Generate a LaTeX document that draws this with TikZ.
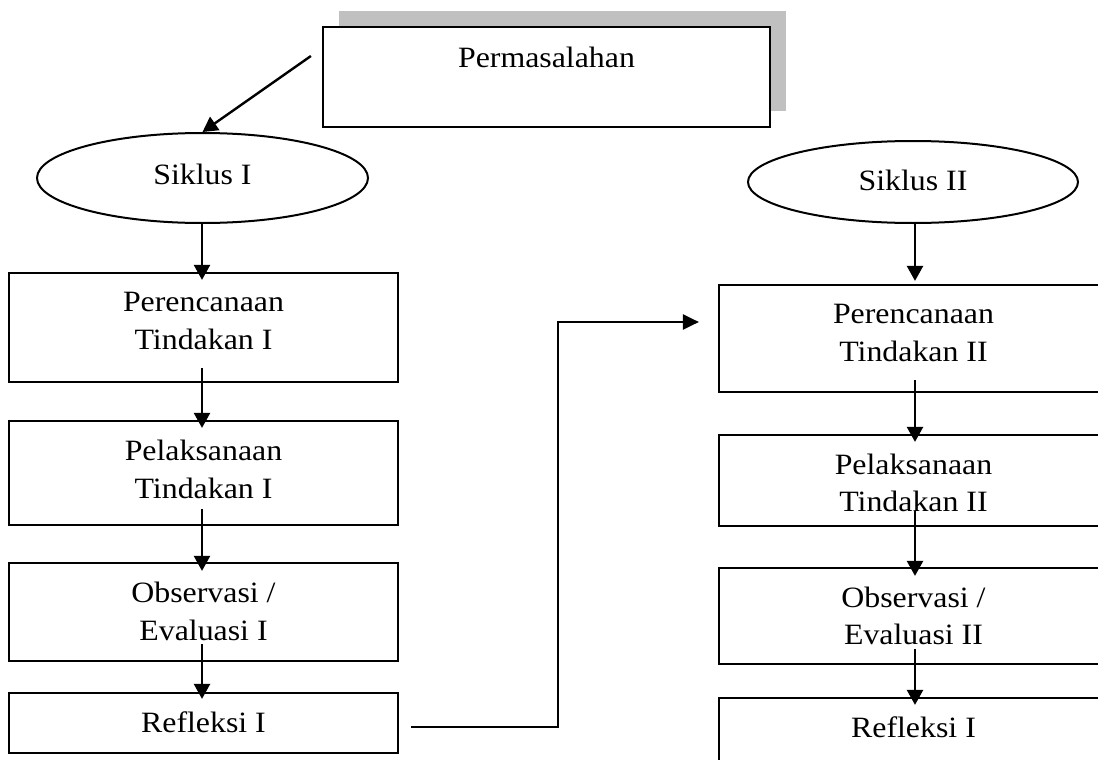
\documentclass[tikz,border=0pt]{standalone}
\usepackage{fontspec}
\setmainfont{Liberation Serif}[FakeStretch=1.08]
\usetikzlibrary{shapes.geometric,arrows.meta,calc}
\definecolor{shadowgray}{HTML}{C0C0C0}
\begin{document}
\begin{tikzpicture}[x=1pt,y=-1pt,
  boxnode/.style={draw, line width=2.2pt, fill=white, rectangle, inner sep=0pt, minimum width=389pt, minimum height=#1},
  shadownode/.style={fill=shadowgray, draw=none, rectangle, inner sep=0pt, minimum width=447pt, minimum height=100pt},
  ellnode/.style={draw, ellipse, line width=2pt, fill=white, inner sep=0pt},
  txt/.style={inner sep=0pt, align=center, font=\fontsize{29.5}{37.7}\selectfont},
  arr/.style={line width=2.4pt, -{Triangle[length=15pt,width=16pt]}},
  arrlink/.style={line width=2.2pt, -{Triangle[length=16pt,width=15pt]}}]
\clip (0,0) rectangle (1098,760);

% top problem box with shadow
\node[shadownode] (permshadow) at (562.5,61) {};
\node[boxnode=100pt, minimum width=447pt] (perm) at (546.5,77) {};
\node[txt, anchor=north] (permt) at ($(perm.north)+(0,20.5)$) {Permasalahan};

% cycle ellipses
\node[ellnode, minimum width=331pt, minimum height=90pt] (s1) at (202.5,178) {};
\node[txt, anchor=base] (s1t) at ($(s1.center)+(0,6)$) {Siklus I};
\node[ellnode, minimum width=330pt, minimum height=82pt] (s2) at (913,182) {};
\node[txt, anchor=base] (s2t) at ($(s2.center)+(0,8)$) {Siklus II};

% left column
\node[boxnode=109pt] (p1) at (203.5,327.5) {};
\node[txt, anchor=north] (p1t) at ($(p1.north)+(0,20.5)$) {Perencanaan\\Tindakan I};
\node[boxnode=104pt] (p2) at (203.5,473) {};
\node[txt, anchor=north] (p2t) at ($(p2.north)+(0,20)$) {Pelaksanaan\\Tindakan I};
\node[boxnode=98pt] (p3) at (203.5,612) {};
\node[txt, anchor=north] (p3t) at ($(p3.north)+(0,20)$) {Observasi /\\Evaluasi I};
\node[boxnode=60pt] (p4) at (203.5,723) {};
\node[txt, anchor=north] (p4t) at ($(p4.north)+(0,20)$) {Refleksi I};

% right column
\node[boxnode=107pt] (q1) at (913.5,338.5) {};
\node[txt, anchor=north] (q1t) at ($(q1.north)+(0,20.5)$) {Perencanaan\\Tindakan II};
\node[boxnode=91pt] (q2) at (913.5,480.5) {};
\node[txt, anchor=north] (q2t) at ($(q2.north)+(0,19.5)$) {Pelaksanaan\\Tindakan II};
\node[boxnode=96pt] (q3) at (913.5,616) {};
\node[txt, anchor=north] (q3t) at ($(q3.north)+(0,19.5)$) {Observasi /\\Evaluasi II};
\node[boxnode=74pt] (q4) at (913.5,735) {};
\node[txt, anchor=north] (q4t) at ($(q4.north)+(0,20)$) {Refleksi I};

% arrows
\coordinate (pa) at ($(perm.west)+(-11,-21)$);
\draw[arr] (pa) -- (s1.north);

\draw[arr] ($(s1.south)+(-0.5,0)$) -- ($(p1.north)+(-1.5,8)$);
\draw[arr] ($(p1.south)+(-1.5,-15)$) -- ($(p2.north)+(-1.5,8)$);
\draw[arr] ($(p2.south)+(-1.5,-17)$) -- ($(p3.north)+(-1.5,9)$);
\draw[arr] ($(p3.south)+(-1.5,-18)$) -- ($(p4.north)+(-1.5,7)$);

\draw[arr] ($(s2.south)+(2,0)$) -- ($(q1.north)+(1.5,-3)$);
\draw[arr] ($(q1.south)+(1.5,-13)$) -- ($(q2.north)+(1.5,8)$);
\draw[arr] ($(q2.south)+(1.5,-16)$) -- ($(q3.north)+(1.5,9)$);
\draw[arr] ($(q3.south)+(1.5,-16)$) -- ($(q4.north)+(1.5,8)$);

\draw[arrlink] ($(p4.east)+(12,4)$) -- ++(147,0) |- ($(q1.west)+(-19,-16.5)$);
\end{tikzpicture}
\end{document}
